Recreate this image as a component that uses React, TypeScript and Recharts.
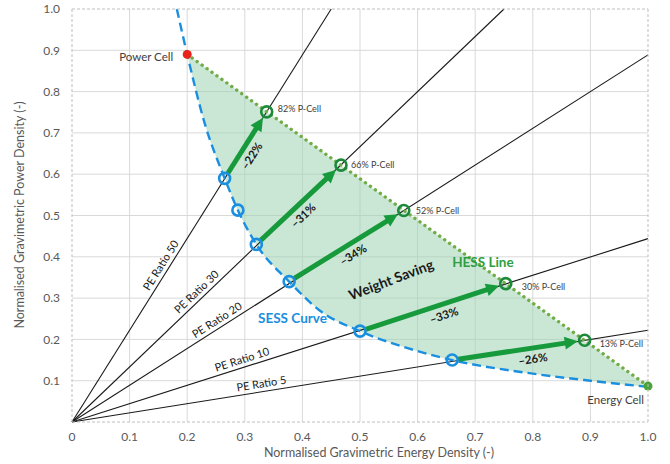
import React from 'react';
import {
  ComposedChart,
  XAxis,
  YAxis,
  CartesianGrid,
  Scatter,
  ReferenceLine,
  ReferenceDot,
} from 'recharts';

// ---- data -------------------------------------------------------------
const xTicks = [0, 0.1, 0.2, 0.3, 0.4, 0.5, 0.6, 0.7, 0.8, 0.9, 1.0];
const xTickLabels = ['0', '0.1', '0.2', '0.3', '0.4', '0.5', '0.6', '0.7', '0.8', '0.9', '1.0'];
const yTicks = [0.1, 0.2, 0.3, 0.4, 0.5, 0.6, 0.7, 0.8, 0.9, 1.0];
const yTickLabels = ['0.1', '0.2', '0.3', '0.4', '0.5', '0.6', '0.7', '0.8', '0.9', '1.0'];

// Constant power/energy ratio rays from the origin (end point of each ray)
const peRatioNames = ['PE Ratio 50', 'PE Ratio 30', 'PE Ratio 20', 'PE Ratio 10', 'PE Ratio 5'];
const peRatioEnds = [
  { x: 0.45, y: 1.0 },
  { x: 0.75, y: 1.0 },
  { x: 1.0, y: 0.889 },
  { x: 1.0, y: 0.444 },
  { x: 1.0, y: 0.222 },
];

// Single-chemistry energy storage (SESS) curve
const sessCurve = [
  { x: 0.182, y: 1.0 },
  { x: 0.2, y: 0.89 },
  { x: 0.23, y: 0.725 },
  { x: 0.265, y: 0.59 },
  { x: 0.288, y: 0.513 },
  { x: 0.32, y: 0.43 },
  { x: 0.377, y: 0.34 },
  { x: 0.43, y: 0.27 },
  { x: 0.5, y: 0.22 },
  { x: 0.58, y: 0.18 },
  { x: 0.66, y: 0.15 },
  { x: 0.8, y: 0.117 },
  { x: 0.9, y: 0.1 },
  { x: 1.0, y: 0.085 },
];

const powerCell = { x: 0.2, y: 0.89 };
const energyCell = { x: 1.0, y: 0.087 };

// Design points on the SESS curve
const sessDesigns = [
  { x: 0.265, y: 0.59 },
  { x: 0.288, y: 0.513 },
  { x: 0.32, y: 0.43 },
  { x: 0.377, y: 0.34 },
  { x: 0.5, y: 0.22 },
  { x: 0.66, y: 0.15 },
];

// Hybrid (HESS) designs on the power-cell / energy-cell mixing line
const hessDesigns = [
  { x: 0.338, y: 0.751 },
  { x: 0.467, y: 0.622 },
  { x: 0.576, y: 0.512 },
  { x: 0.753, y: 0.335 },
  { x: 0.89, y: 0.198 },
];
const pCellShare = ['82% P-Cell', '66% P-Cell', '52% P-Cell', '30% P-Cell', '13% P-Cell'];
const weightSaving = ['\u201322%', '\u201331%', '\u201334%', '\u201333%', '\u201326%'];
// index into sessDesigns where each saving arrow starts
const arrowFrom = [0, 2, 3, 4, 5];

// ---- styling ----------------------------------------------------------
const FONT = 'Lato, "Open Sans", sans-serif';
const GREEN = '#179a3c';
const HESS_GREEN = '#70ad47';
const BLUE = '#1a8fe0';
const TEXT = '#404040';
const AXIS_TEXT = '#595959';

const peLabelDistance = [180, 180, 177, 181, 193];
const arrowLabelShift = [-6, -4, 1, 8, 13];
const pCellLabelOffset = [
  [11, -3],
  [10, 0],
  [12, 0],
  [16, 3],
  [15, 4],
];

const peRayShape = (i: number) => (p: any) => {
  const { x1, y1, x2, y2 } = p;
  const dx = x2 - x1;
  const dy = y2 - y1;
  const len = Math.hypot(dx, dy);
  const ux = dx / len;
  const uy = dy / len;
  const d = peLabelDistance[i];
  const off = 8;
  const tx = x1 + ux * d + uy * off;
  const ty = y1 + uy * d - ux * off;
  const ang = (Math.atan2(dy, dx) * 180) / Math.PI;
  return (
    <g>
      <line x1={x1} y1={y1} x2={x2} y2={y2} stroke="#1a1a1a" strokeWidth={1.1} />
      <text
        x={tx}
        y={ty}
        dy="0.35em"
        textAnchor="middle"
        transform={`rotate(${ang} ${tx} ${ty})`}
        fontFamily={FONT}
        fontSize={11}
        fill="#1a1a1a"
      >
        {peRatioNames[i]}
      </text>
    </g>
  );
};

const arrowShape = (i: number) => (p: any) => {
  const { x1, y1, x2, y2 } = p;
  const dx = x2 - x1;
  const dy = y2 - y1;
  const len = Math.hypot(dx, dy);
  const ux = dx / len;
  const uy = dy / len;
  const nx = -uy;
  const ny = ux;
  const sx = x1 + ux * 6;
  const sy = y1 + uy * 6;
  const tipX = x2 - ux * 7;
  const tipY = y2 - uy * 7;
  const head = 13;
  const half = 6.5;
  const bx = tipX - ux * head;
  const by = tipY - uy * head;
  const pts = `${tipX},${tipY} ${bx + nx * half},${by + ny * half} ${bx - nx * half},${by - ny * half}`;
  const mx = (x1 + x2) / 2 + ux * arrowLabelShift[i] + nx * 11;
  const my = (y1 + y2) / 2 + uy * arrowLabelShift[i] + ny * 11;
  const ang = (Math.atan2(dy, dx) * 180) / Math.PI;
  return (
    <g>
      <line x1={sx} y1={sy} x2={bx + ux * 2} y2={by + uy * 2} stroke={GREEN} strokeWidth={5} />
      <polygon points={pts} fill={GREEN} />
      <text
        x={mx}
        y={my}
        dy="0.35em"
        textAnchor="middle"
        transform={`rotate(${ang} ${mx} ${my})`}
        fontFamily={FONT}
        fontSize={11.5}
        fontWeight="bold"
        fill="#1a1a1a"
      >
        {weightSaving[i]}
      </text>
    </g>
  );
};

const textDot = (
  text: string,
  opts: { dx?: number; dy?: number; anchor?: string; size?: number; bold?: boolean; color?: string; angle?: number }
) => (p: any) => {
  const x = p.cx + (opts.dx || 0);
  const y = p.cy + (opts.dy || 0);
  return (
    <text
      x={x}
      y={y}
      dy="0.35em"
      textAnchor={opts.anchor || 'start'}
      transform={opts.angle ? `rotate(${opts.angle} ${x} ${y})` : undefined}
      fontFamily={FONT}
      fontSize={opts.size || 11}
      fontWeight={opts.bold ? 'bold' : 'normal'}
      fill={opts.color || TEXT}
    >
      {text}
    </text>
  );
};

const ringShape = (color: string) => (p: any) => (
  <circle cx={p.cx} cy={p.cy} r={5.5} fill="none" stroke={color} strokeWidth={2.6} />
);

export default function App() {
  const fillArea = sessCurve.filter((pt) => pt.x >= powerCell.x);
  return (
    <div style={{ position: 'absolute', left: 0, top: 0 }}>
      <ComposedChart
        width={670}
        height={464}
        margin={{ top: 9, right: 22, left: 0, bottom: 0 }}
        style={{ fontFamily: FONT }}
      >
        <CartesianGrid
          stroke="#d9d9d9"
          strokeWidth={1}
          horizontalValues={yTicks.slice(0, -1)}
          verticalValues={xTicks.slice(1, -1)}
        />
        <XAxis
          type="number"
          dataKey="x"
          domain={[0, 1]}
          ticks={xTicks}
          allowDataOverflow
          tickFormatter={(v: number) => xTickLabels[xTicks.findIndex((t) => Math.abs(t - v) < 1e-9)]}
          tick={{ fill: AXIS_TEXT, fontSize: 12, fontFamily: FONT }}
          tickLine={false}
          tickSize={0}
          tickMargin={10}
          axisLine={{ stroke: '#bfbfbf', strokeDasharray: '3 2' }}
          height={42}
          label={(props: any) => (
            <text
              x={379}
              y={453}
              dy="0.35em"
              textAnchor="middle"
              fontFamily={FONT}
              fontSize={12.5}
              fill={AXIS_TEXT}
            >
              Normalised Gravimetric Energy Density (-)
            </text>
          )}
        />
        <YAxis
          type="number"
          dataKey="y"
          domain={[0, 1]}
          ticks={yTicks}
          allowDataOverflow
          tickFormatter={(v: number) => yTickLabels[yTicks.findIndex((t) => Math.abs(t - v) < 1e-9)]}
          tick={{ fill: AXIS_TEXT, fontSize: 12, fontFamily: FONT }}
          tickLine={false}
          tickSize={0}
          tickMargin={12}
          axisLine={{ stroke: '#bfbfbf', strokeDasharray: '3 2' }}
          width={72}
          label={(props: any) => (
            <text
              x={20}
              y={215}
              dy="0.35em"
              textAnchor="middle"
              transform="rotate(-90 20 215)"
              fontFamily={FONT}
              fontSize={12.5}
              fill={AXIS_TEXT}
            >
              Normalised Gravimetric Power Density (-)
            </text>
          )}
        />

        {/* plot frame */}
        <ReferenceLine y={1} stroke="#bfbfbf" strokeDasharray="3 2" />
        <ReferenceLine x={1} stroke="#bfbfbf" strokeDasharray="3 2" />

        {/* weight-saving region between SESS curve and HESS line */}
        <Scatter
          data={fillArea}
          line={{ fill: '#9fd4b4', fillOpacity: 0.55, stroke: 'none' }}
          lineJointType="monotoneX"
          shape={() => <g />}
          isAnimationActive={false}
          zIndex={-50}
        />

        {/* PE ratio rays */}
        {peRatioEnds.map((end, i) => (
          <ReferenceLine
            key={`pe-${i}`}
            segment={[{ x: 0, y: 0 }, end]}
            shape={peRayShape(i)}
            ifOverflow="visible"
            zIndex={10}
          />
        ))}

        {/* SESS curve */}
        <Scatter
          data={sessCurve}
          line={{ stroke: BLUE, strokeWidth: 2.4, strokeDasharray: '9 5', fill: 'none' }}
          lineJointType="monotoneX"
          shape={() => <g />}
          isAnimationActive={false}
          zIndex={20}
        />

        {/* HESS mixing line */}
        <ReferenceLine
          segment={[powerCell, energyCell]}
          stroke={HESS_GREEN}
          strokeWidth={3.4}
          strokeLinecap="round"
          strokeDasharray="0.1 6"
          ifOverflow="visible"
          zIndex={30}
        />

        {/* saving arrows */}
        {hessDesigns.map((h, i) => (
          <ReferenceLine
            key={`arrow-${i}`}
            segment={[sessDesigns[arrowFrom[i]], h]}
            shape={arrowShape(i)}
            ifOverflow="visible"
            zIndex={40}
          />
        ))}

        <Scatter data={sessDesigns} shape={ringShape(BLUE)} isAnimationActive={false} zIndex={50} />
        <Scatter data={hessDesigns} shape={ringShape('#1b8a3a')} isAnimationActive={false} zIndex={50} />

        {/* end-member cells */}
        <ReferenceDot x={powerCell.x} y={powerCell.y} r={4.5} fill="#e8231b" stroke="none" ifOverflow="visible" zIndex={60} />
        <ReferenceDot x={energyCell.x} y={energyCell.y} r={4.5} fill="#4aa23a" stroke="none" ifOverflow="visible" zIndex={60} />
        <ReferenceDot
          x={powerCell.x}
          y={powerCell.y}
          ifOverflow="visible"
          zIndex={60}
          shape={textDot('Power Cell', { dx: -14, dy: 3, anchor: 'end', size: 11.5 })}
        />
        <ReferenceDot
          x={energyCell.x}
          y={energyCell.y}
          ifOverflow="visible"
          zIndex={60}
          shape={textDot('Energy Cell', { dx: -4, dy: 14, anchor: 'end', size: 11.5 })}
        />

        {hessDesigns.map((h, i) => (
          <ReferenceDot
            key={`share-${i}`}
            x={h.x}
            y={h.y}
            ifOverflow="visible"
            zIndex={60}
            shape={textDot(pCellShare[i], {
              dx: pCellLabelOffset[i][0],
              dy: pCellLabelOffset[i][1],
              size: 9,
            })}
          />
        ))}

        {/* region labels */}
        <ReferenceDot
          x={0.66}
          y={0.387}
          ifOverflow="visible"
          zIndex={60}
          shape={textDot('HESS Line', { size: 13.5, bold: true, color: '#2e9e3e' })}
        />
        <ReferenceDot
          x={0.323}
          y={0.25}
          ifOverflow="visible"
          zIndex={60}
          shape={textDot('SESS Curve', { size: 13.5, bold: true, color: BLUE })}
        />
        <ReferenceDot
          x={0.554}
          y={0.344}
          ifOverflow="visible"
          zIndex={60}
          shape={textDot('Weight Saving', { size: 14, bold: true, color: '#1a1a1a', anchor: 'middle', angle: -21 })}
        />
      </ComposedChart>
    </div>
  );
}
